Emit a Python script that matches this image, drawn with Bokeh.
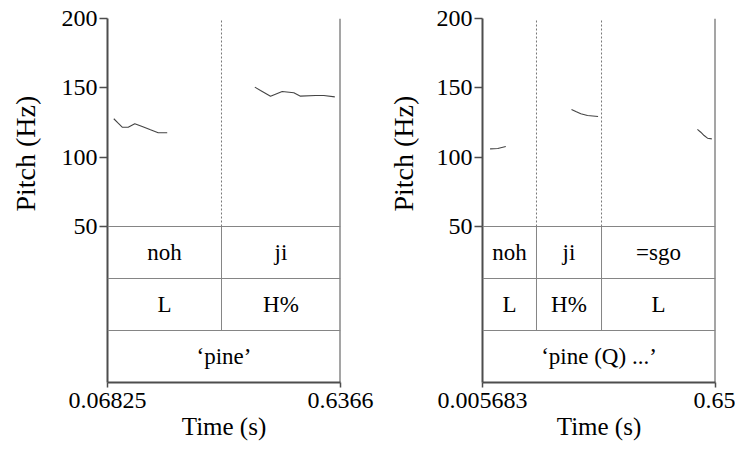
import math
from bokeh.plotting import figure
from bokeh.layouts import row
from bokeh.models import Range1d, FixedTicker, Span
from bokeh.core.properties import value
from bokeh.embed import file_html
from bokeh.resources import INLINE

# ---------------- data ----------------
# Panel A: 'pine'
a_xrange = [0.06825, 0.6366]
a_xlabels = ["0.06825", "0.6366"]
a_pitch1_t = [0.0836, 0.0943, 0.1041, 0.1187, 0.1348, 0.1529, 0.1731, 0.1919, 0.2139]
a_pitch1_f = [127.7, 124.5, 121.6, 121.6, 124.1, 122.1, 119.7, 117.6, 117.6]
a_pitch2_t = [0.4276, 0.4415, 0.4659, 0.4944, 0.5227, 0.5390, 0.5756, 0.5959, 0.6227]
a_pitch2_f = [150.5, 148.1, 144.0, 147.4, 146.4, 144.0, 144.5, 144.5, 143.5]
a_bounds = [0.3463]
a_words = ["noh", "ji"]
a_tones = ["L", "H%"]
a_gloss = ["\u2018pine\u2019"]

# Panel B: 'pine (Q) ...'
b_xrange = [0.005683, 0.65]
b_xlabels = ["0.005683", "0.65"]
b_pitch1_t = [0.0267, 0.0480, 0.0591, 0.0701]
b_pitch1_f = [106.0, 106.2, 107.0, 107.7]
b_pitch2_t = [0.2518, 0.2637, 0.2775, 0.2960, 0.3253]
b_pitch2_f = [134.4, 132.9, 131.3, 130.0, 129.3]
b_pitch3_t = [0.6000, 0.6093, 0.6185, 0.6279, 0.6398]
b_pitch3_f = [120.0, 118.0, 115.6, 113.7, 113.2]
b_bounds = [0.1550, 0.3348]
b_words = ["noh", "ji", "=sgo"]
b_tones = ["L", "H%", "L"]
b_gloss = ["\u2018pine (Q) ...\u2019"]

y_ticks = [50, 100, 150, 200]
y_label = "Pitch (Hz)"
x_label = "Time (s)"

FONT = "Liberation Serif"
AXIS_COL = "#4d4d4d"
TIER_COL = "#858585"
CURVE_COL = "#444444"
FIG_H = 447
LABEL_W = 45


def label_strip(cx, cy_from_top):
    """Narrow strip holding the rotated y-axis title."""
    s = figure(width=LABEL_W, height=FIG_H, output_backend="svg", toolbar_location=None,
               x_range=Range1d(0, LABEL_W), y_range=Range1d(0, FIG_H),
               x_axis_location=None, y_axis_location=None, min_border=0)
    s.outline_line_color = None
    s.grid.visible = False
    s.text(x=[cx], y=[FIG_H - cy_from_top], text=[y_label], angle=math.pi / 2,
           text_font=value(FONT), text_font_size="28px", text_align="center",
           text_baseline="middle", text_color="black")
    return s


def panel(xr, xlabels, curves, bounds, words, tones, gloss, width, bl, br):
    ymax = 200.0
    ytier = 50.0
    row_h = 37.5
    ymin = ytier - 3 * row_h
    p = figure(width=width, height=FIG_H, output_backend="svg", toolbar_location=None,
               x_range=Range1d(xr[0], xr[1]), y_range=Range1d(ymin, ymax),
               min_border_left=bl, min_border_right=br, min_border_top=18,
               min_border_bottom=65)
    p.outline_line_color = None
    p.grid.visible = False
    p.background_fill_color = "white"
    p.border_fill_color = "white"

    # axes
    p.yaxis.ticker = FixedTicker(ticks=y_ticks)
    p.xaxis.ticker = FixedTicker(ticks=list(xr))
    p.xaxis.major_label_overrides = {xr[0]: xlabels[0], xr[1]: xlabels[1]}
    for ax in (p.xaxis, p.yaxis):
        ax.axis_line_color = AXIS_COL
        ax.axis_line_width = 2
        ax.major_tick_line_color = AXIS_COL
        ax.major_tick_line_width = 1.5
        ax.major_tick_in = 0
        ax.minor_tick_line_color = None
        ax.major_label_text_font = FONT
        ax.major_label_text_font_size = "24px"
        ax.major_label_text_color = "black"
    p.yaxis.major_tick_out = 8
    p.yaxis.major_label_standoff = 2
    p.xaxis.major_tick_out = 5
    p.xaxis.major_label_standoff = 5
    p.xaxis.axis_label = x_label
    p.xaxis.axis_label_text_font = FONT
    p.xaxis.axis_label_text_font_style = "normal"
    p.xaxis.axis_label_text_font_size = "25px"
    p.xaxis.axis_label_text_color = "black"
    p.xaxis.axis_label_standoff = 2

    # right border
    p.add_layout(Span(location=xr[1], dimension="height", line_color=AXIS_COL, line_width=2))
    # tier horizontal lines
    for k in range(3):
        p.add_layout(Span(location=ytier - k * row_h, dimension="width",
                          line_color=TIER_COL, line_width=1))

    # boundaries: dotted in pitch area, solid in first two tiers
    for b in bounds:
        p.segment(x0=[b], y0=[ytier], x1=[b], y1=[ymax], line_color="#777777",
                  line_width=1, line_dash="2 2")
        p.segment(x0=[b], y0=[ytier - 2 * row_h], x1=[b], y1=[ytier],
                  line_color=TIER_COL, line_width=1)

    # pitch curves
    for t, f in curves:
        p.line(t, f, line_color=CURVE_COL, line_width=1.1)

    # tier texts
    edges = [xr[0]] + list(bounds) + [xr[1]]
    mids = [(edges[i] + edges[i + 1]) / 2 for i in range(len(edges) - 1)]
    tier_specs = [(words, mids, ytier - 0.5 * row_h),
                  (tones, mids, ytier - 1.5 * row_h),
                  (gloss, [(xr[0] + xr[1]) / 2], ytier - 2.5 * row_h)]
    for labels, xs, yc in tier_specs:
        p.text(x=xs, y=[yc] * len(xs), text=labels, text_font=value(FONT),
               text_font_size="23px", text_align="center", text_baseline="middle",
               text_color="black")
    return p


la = label_strip(24.5, 166)
pa = panel(a_xrange, a_xlabels, [(a_pitch1_t, a_pitch1_f), (a_pitch2_t, a_pitch2_f)],
           a_bounds, a_words, a_tones, a_gloss, width=330, bl=62, br=35)
lb = label_strip(28, 166)
pb = panel(b_xrange, b_xlabels, [(b_pitch1_t, b_pitch1_f), (b_pitch2_t, b_pitch2_f),
                                 (b_pitch3_t, b_pitch3_f)],
           b_bounds, b_words, b_tones, b_gloss, width=315, bl=62, br=20)

layout = row(la, pa, lb, pb)
open("out.html", "w").write(file_html(layout, INLINE))
